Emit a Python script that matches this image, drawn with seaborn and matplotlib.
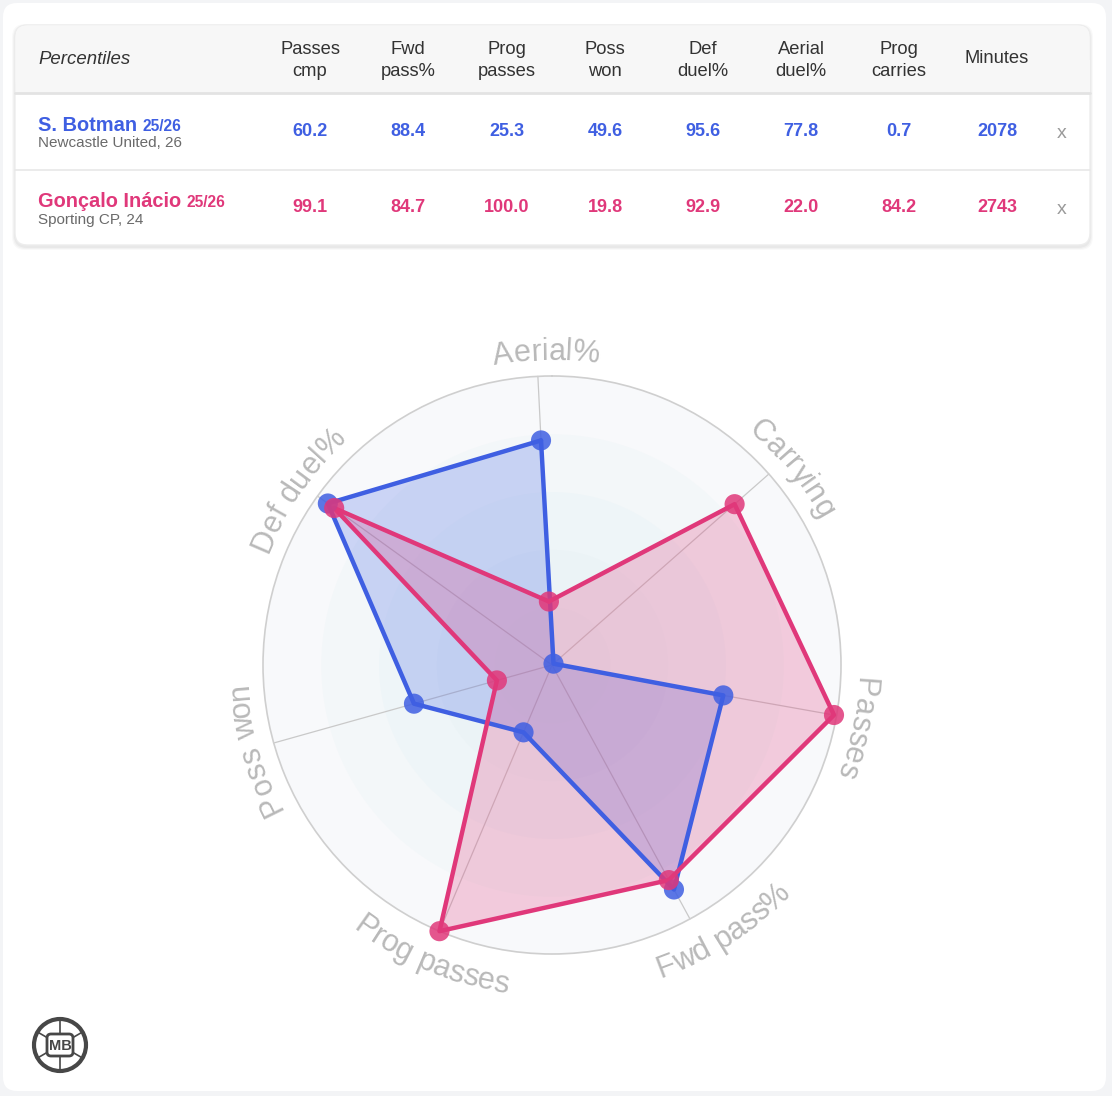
import numpy as np
import pandas as pd
import matplotlib
matplotlib.use("Agg")
import matplotlib.pyplot as plt
import seaborn as sns
from matplotlib.patches import FancyBboxPatch, Rectangle, Circle
from matplotlib.font_manager import FontProperties
from matplotlib.textpath import TextToPath

# ---------------- data ----------------
table_columns = ["Passes\ncmp", "Fwd\npass%", "Prog\npasses", "Poss\nwon",
                 "Def\nduel%", "Aerial\nduel%", "Prog\ncarries", "Minutes"]
botman_table = [60.2, 88.4, 25.3, 49.6, 95.6, 77.8, 0.7, 2078]
inacio_table = [99.1, 84.7, 100.0, 19.8, 92.9, 22.0, 84.2, 2743]

player_names = ["S. Botman", "Gonçalo Inácio"]
player_seasons = ["25/26", "25/26"]
player_clubs = ["Newcastle United, 26", "Sporting CP, 24"]

radar_labels = ["Aerial%", "Carrying", "Passes", "Fwd pass%",
                "Prog passes", "Poss won", "Def duel%"]
botman_radar = [77.8, 0.7, 60.2, 88.4, 25.3, 49.6, 95.6]
inacio_radar = [22.0, 84.2, 99.1, 84.7, 100.0, 19.8, 92.9]

# label placement tweaks (degrees, layout only)
label_angle_shift = [1.8, 2.1, 1.6, -4.2, -0.5, 0.0, -1.2]

# ---------------- style ----------------
sns.set_theme(style="white")
plt.rcParams["font.family"] = ["Liberation Sans", "DejaVu Sans"]

BLUE = "#3f5fe2"
PINK = "#e0387a"
W, H, DPI = 1112, 1096, 100
fig = plt.figure(figsize=(W / DPI, H / DPI), dpi=DPI)
fig.patch.set_facecolor("#f3f4f6")

# pixel-space background axes for the table card
bg = fig.add_axes([0, 0, 1, 1])
bg.set_xlim(0, W)
bg.set_ylim(H, 0)
bg.axis("off")

# page panel
bg.add_patch(FancyBboxPatch((3, 3), 1103, 1088, boxstyle="round,pad=0,rounding_size=14",
                            fc="white", ec="none", zorder=0))

# card shadow + card
for k, a in enumerate([0.035, 0.03, 0.025]):
    bg.add_patch(FancyBboxPatch((15 - k - 1, 25 - k + 1), 1075 + 2 * k + 2, 220 + 2 * k + 2,
                                boxstyle="round,pad=0,rounding_size=13",
                                fc="black", ec="none", alpha=a, zorder=0.5))
bg.add_patch(FancyBboxPatch((15, 25), 1075, 220, boxstyle="round,pad=0,rounding_size=12",
                            fc="white", ec="#ededed", lw=1, zorder=1))
bg.add_patch(FancyBboxPatch((15.5, 25.5), 1074, 67, boxstyle="round,pad=0,rounding_size=12",
                            fc="#f7f7f7", ec="none", zorder=1.1))
bg.add_patch(Rectangle((15.5, 60), 1074, 33, fc="#f7f7f7", ec="none", zorder=1.1))
bg.plot([15, 1090], [93, 93], color="#e3e3e3", lw=2, zorder=1.2)
bg.plot([15, 1090], [169.5, 169.5], color="#e8e8e8", lw=1.2, zorder=1.2)

# header
bg.text(38, 59, "Percentiles", style="italic", fontsize=13.4, color="#333333",
        ha="left", va="center", zorder=3)
col_x = [310, 408, 507, 605, 703, 801, 899, 997]
for x, lab in zip(col_x, table_columns):
    bg.text(x, 60.5 if "\n" in lab else 58.5, lab, fontsize=13.2, color="#333333",
            ha="center", va="center", linespacing=1.32, zorder=3)

# rows
renderer = fig.canvas.get_renderer()
rows = [(botman_table, BLUE, 131, 147, 132), (inacio_table, PINK, 207, 224, 208)]
for i, (vals, col, base_y, sub_y, val_y) in enumerate(rows):
    t = bg.text(38, base_y, player_names[i], fontsize=14.4, fontweight="bold", color=col,
                ha="left", va="baseline", zorder=3)
    bb = t.get_window_extent(renderer=renderer)
    bg.text(38 + bb.width + 5, base_y, player_seasons[i], fontsize=11.2, fontweight="bold",
            color=col, ha="left", va="baseline", zorder=3)
    bg.text(38, sub_y, player_clubs[i], fontsize=11, color="#6a6a6a",
            ha="left", va="baseline", zorder=3)
    for j, (x, v) in enumerate(zip(col_x, vals)):
        s = f"{int(v)}" if j == len(vals) - 1 else f"{v:.1f}"
        bg.text(x, val_y, s, fontsize=13, fontweight="bold", color=col,
                ha="center", va="center", zorder=3)
    bg.text(1062, val_y + 1.5, "x", fontsize=14, color="#9a9a9a", ha="center",
            va="center", zorder=3)

# logo
bg.add_patch(Circle((60, 1045), 26, fc="white", ec="#474747", lw=3, zorder=3))
for ang in np.linspace(0, 2 * np.pi, 6, endpoint=False):
    bg.plot([60 + 12 * np.sin(ang), 60 + 25 * np.sin(ang)],
            [1045 - 12 * np.cos(ang), 1045 - 25 * np.cos(ang)],
            color="#474747", lw=1.2, zorder=3)
bg.add_patch(FancyBboxPatch((47, 1034), 26, 22, boxstyle="round,pad=0,rounding_size=4",
                            fc="white", ec="#474747", lw=2, zorder=4))
bg.text(60, 1046, "MB", fontsize=10.5, fontweight="bold", color="#474747",
        ha="center", va="center", zorder=5)

# ---------------- radar ----------------
cx, cy, R = 552, 665, 289
pax = fig.add_axes([(cx - R) / W, (H - cy - R) / H, 2 * R / W, 2 * R / H], projection="polar")
pax.set_theta_zero_location("N")
pax.set_theta_direction(-1)
pax.set_ylim(0, 100)
pax.set_xticks([])
pax.set_yticks([])
pax.grid(False)
pax.set_facecolor("none")
pax.spines["polar"].set_color("#cfcfcf")
pax.spines["polar"].set_linewidth(1.2)

n = len(radar_labels)
start_deg = -2.8
thetas = np.radians(start_deg + np.arange(n) * 360.0 / n)

# background bands
tgrid = np.linspace(0, 2 * np.pi, 400)
band_colors = ["#f8f9fb", "#f3f7f9", "#eef5f8", "#ebf3f6", "#e9f2f5"]
for r, c in zip([100, 80, 60, 40, 20], band_colors):
    pax.fill_between(tgrid, 0, r, color=c, lw=0, zorder=0)

# spokes
for t in thetas:
    pax.plot([t, t], [0, 100], color="#c9c9c9", lw=0.9, zorder=1)

df = pd.DataFrame({
    "player": [player_names[0]] * n + [player_names[1]] * n,
    "metric": radar_labels * 2,
    "theta": np.concatenate([thetas, thetas]),
    "value": botman_radar + inacio_radar,
})
closed = []
for p in player_names:
    sub = df[df.player == p]
    first = sub.iloc[[0]].copy()
    first["theta"] = first["theta"] + 2 * np.pi
    closed.append(pd.concat([sub, first]))
df_closed = pd.concat(closed, ignore_index=True)
palette = {player_names[0]: BLUE, player_names[1]: PINK}

for p in player_names:
    sub = df_closed[df_closed.player == p]
    pax.fill(sub["theta"], sub["value"], color=palette[p], alpha=0.24, lw=0, zorder=2)

sns.lineplot(data=df_closed, x="theta", y="value", hue="player", palette=palette,
             estimator=None, sort=False, lw=3.2, legend=False, ax=pax, zorder=3)
sns.scatterplot(data=df, x="theta", y="value", hue="player", palette=palette,
                s=210, alpha=0.85, edgecolor="none", legend=False, ax=pax, zorder=4)
for art in list(pax.lines) + list(pax.collections):
    art.set_clip_on(False)
pax.set_xlabel("")
pax.set_ylabel("")
pax.set_ylim(0, 100)
pax.set_xticks([])
pax.set_yticks([])

# curved labels
fp = FontProperties(family="Liberation Sans", size=22)
ttp = TextToPath()


def text_w(s):
    if s == "":
        return 0.0
    return ttp.get_text_width_height_descent(s, fp, ismath=False)[0] * DPI / 72.0


em = 22 * DPI / 72.0
for lab, t, shift in zip(radar_labels, thetas, label_angle_shift):
    phi0 = np.degrees(t) % 360 + shift
    flip = 120 < phi0 < 240
    total = text_w(lab)
    r_base = 321.0 + 0.33 * em if flip else 315.0 - 0.33 * em
    for i, ch in enumerate(lab):
        if ch == " ":
            continue
        xc = (text_w(lab[:i]) + text_w(lab[:i + 1])) / 2 - total / 2
        dphi = np.degrees(xc / r_base)
        phi = phi0 - dphi if flip else phi0 + dphi
        rot = 180 - phi if flip else -phi
        pax.text(np.radians(phi), r_base / R * 100, ch, fontproperties=fp, color="#b9b9b9",
                 rotation=rot, rotation_mode="anchor", ha="center", va="baseline",
                 clip_on=False, zorder=5)

fig.savefig("out.png", dpi=DPI, facecolor=fig.get_facecolor())
